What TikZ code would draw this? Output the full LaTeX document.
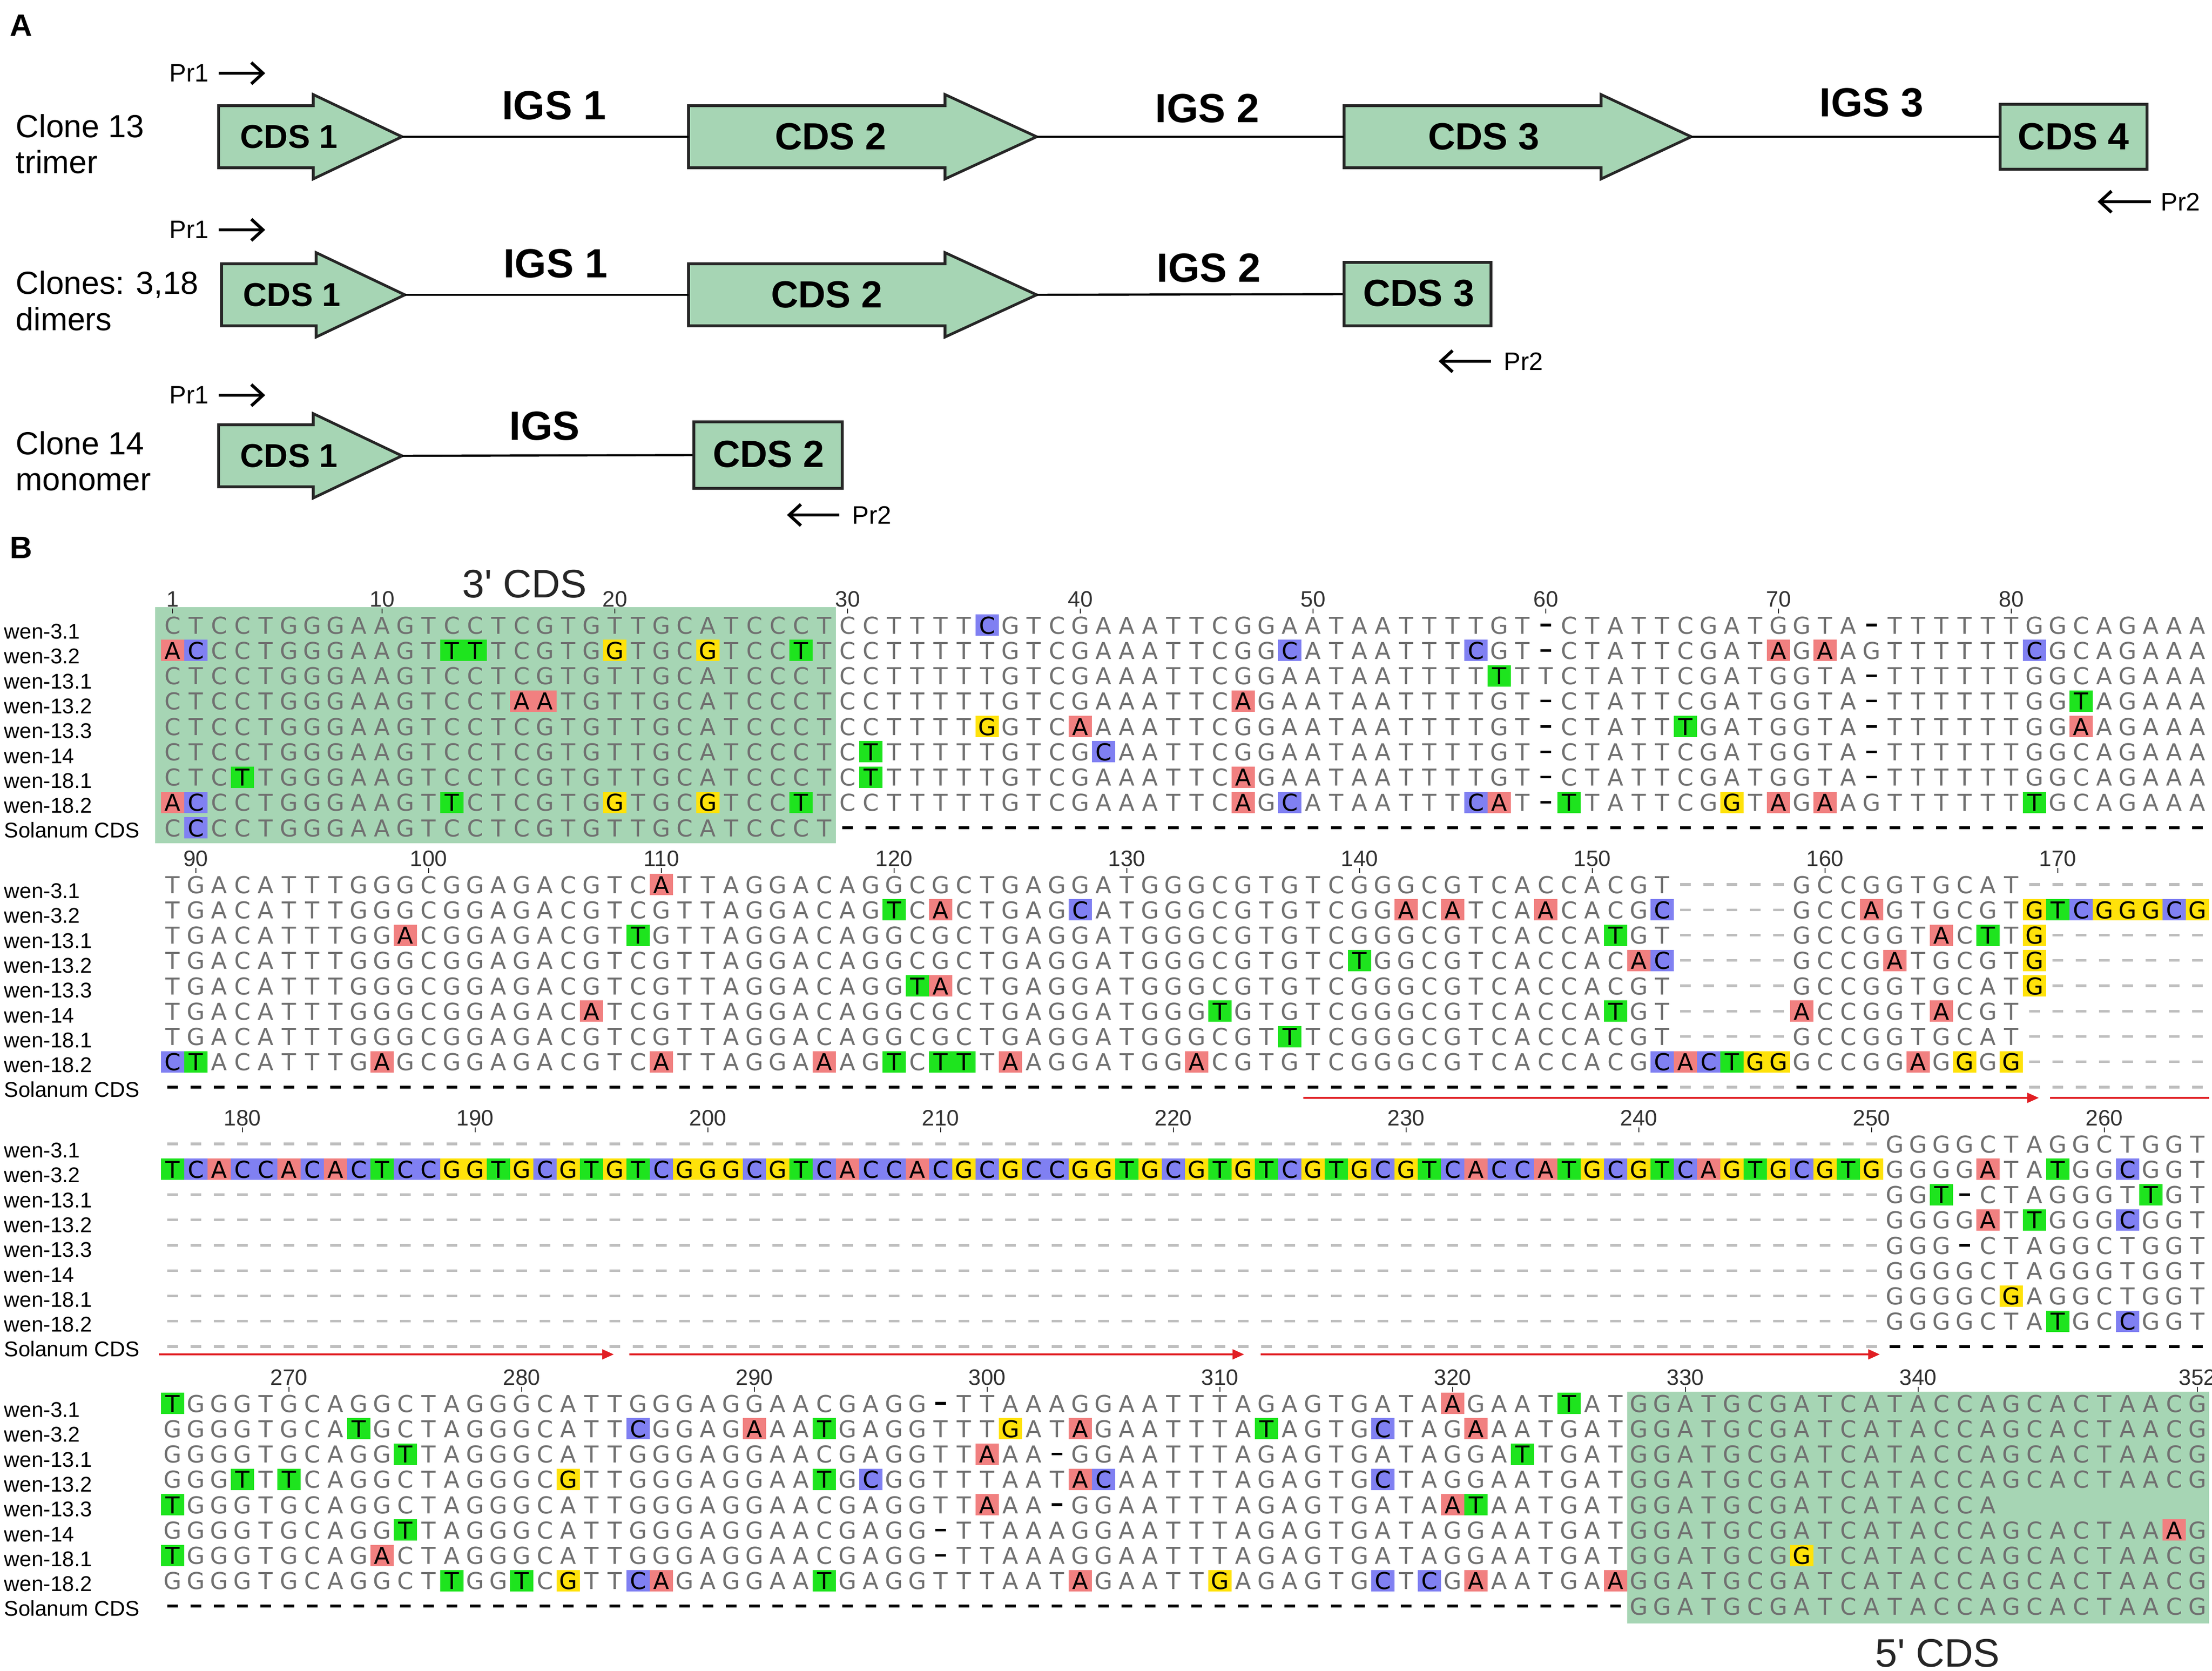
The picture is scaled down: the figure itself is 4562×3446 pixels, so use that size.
\documentclass[tikz,border=0pt]{standalone}
\usepackage{fontspec}
\setmainfont{Liberation Sans}
\newfontfamily\seqfont{DejaVu Sans}
\usetikzlibrary{arrows.meta}

\definecolor{hlA}{RGB}{241,128,128}
\definecolor{hlC}{RGB}{128,128,242}
\definecolor{hlG}{RGB}{255,226,10}
\definecolor{hlT}{RGB}{30,228,30}
\definecolor{cdsgreen}{RGB}{166,213,180}
\definecolor{seqgray}{RGB}{112,112,112}
\definecolor{gapgray}{RGB}{190,190,190}
\definecolor{numgray}{RGB}{50,50,50}
\definecolor{repred}{RGB}{225,30,35}

\ExplSyntaxOn
\cs_new:Npn \seqrep #1#2 { \prg_replicate:nn {#1} {#2} }
\ExplSyntaxOff

\tikzset{
  seqtxt/.style={font=\seqfont\fontsize{12}{12}\selectfont, inner sep=0pt, anchor=base},
  numtxt/.style={font=\fontsize{11.5}{11.5}\selectfont, text=numgray, inner sep=0pt, anchor=base},
  lbl/.style={font=\fontsize{11}{11}\selectfont, inner sep=0pt, anchor=base west},
  cds/.style={fill=cdsgreen, draw=black!85, line width=1.4pt, line join=miter},
  cdstxt/.style={font=\bfseries\fontsize{17}{17}\selectfont, inner sep=0pt},
  cdstxtb/.style={font=\bfseries\fontsize{19.5}{19.5}\selectfont, inner sep=0pt},
  igstxt/.style={font=\bfseries\fontsize{21}{21}\selectfont, inner sep=0pt},
  clonetxt/.style={font=\fontsize{16.5}{16.5}\selectfont, inner sep=0pt, anchor=base west},
  prtxt/.style={font=\fontsize{13}{13}\selectfont, inner sep=0pt},
  prarrow/.style={line width=1.6pt, -{Straight Barb[length=6pt,width=11pt]}},
  link/.style={line width=1.1pt},
  panel/.style={font=\bfseries\fontsize{16}{16}\selectfont, inner sep=0pt},
  reparrow/.style={repred, line width=1.1pt, -{Triangle[length=6pt,width=5pt]}},
  repline/.style={repred, line width=1.1pt},
  cdstitle/.style={font=\fontsize{20.5}{20.5}\selectfont, text=black!85, inner sep=0pt, anchor=base},
}

\newcount\seqcol
\newcommand\seqrow[3]{%
  \pgfmathsetmacro\seqY{1289+535*#1+52.25*#2}%
  \global\seqcol=0
  \edef\seqstr{#3}%
  \expandafter\seqparse\seqstr\relax}
\def\seqparse#1{\ifx#1\relax\else\seqchar#1\global\advance\seqcol by 1 \expandafter\seqparse\fi}
\newcommand\seqhl[2]{\fill[#2] (\seqx-24,\seqY-22) rectangle (\seqx+24,\seqY+22); \node[seqtxt,text=black] at (\seqx,\seqY+18) {#1};}
\newcommand\seqnorm[1]{\node[seqtxt,text=seqgray] at (\seqx,\seqY+18) {#1};}
\newcommand\seqgap[1]{\fill[#1] (\seqx-11,\seqY-2.6) rectangle (\seqx+11,\seqY+2.6);}
\def\seqchar#1{%
  \edef\seqx{\the\numexpr356+48*\seqcol\relax}%
  \if#1a\seqhl{A}{hlA}\else
  \if#1c\seqhl{C}{hlC}\else
  \if#1g\seqhl{G}{hlG}\else
  \if#1t\seqhl{T}{hlT}\else
  \if#1-\seqgap{black}\else
  \if#1.\seqgap{gapgray}\else
  \if#1*\relax\else
  \seqnorm{#1}%
  \fi\fi\fi\fi\fi\fi\fi}
\newcommand\ticknum[3]{%
  \pgfmathsetmacro\tY{1289+535*#1}%
  \pgfmathsetmacro\tX{356+48*#2}%
  \draw[numgray, line width=0.5pt] (\tX,\tY-34) -- (\tX,\tY-24);
  \node[numtxt] at (\tX,\tY-38) {#3};}
\newcommand\cdsarrow[7]{%
  \draw[cds] (#2,#5-#6) -- (#4,#5-#6) -- (#4,#5-#7) -- (#3,#5) -- (#4,#5+#7) -- (#4,#5+#6) -- (#2,#5+#6) -- cycle;
  \coordinate (#1-w) at (#2,#5);
  \coordinate (#1-e) at (#3,#5);}

\begin{document}
\begin{tikzpicture}[x=0.25pt,y=-0.25pt]
\useasboundingbox (0,0) rectangle (4562,3446);

% ---------------- Panel A ----------------
\node[panel] (pA) at (44,52) {A};
\node[panel] (pB) at (44,1129) {B};

% row 1: trimer
\node[clonetxt] (c13a) at (32,283) {Clone 13};
\node[clonetxt] (c13b) at (32,357) {trimer};
\node[prtxt] (r1p1) at (390,151) {Pr1};
\coordinate (r1p1s) at (451,151); \coordinate (r1p1e) at (547,151);
\draw[prarrow] (r1p1s) -- (r1p1e);
\cdsarrow{r1a}{451}{829}{646}{282}{64}{87}
\cdsarrow{r1b}{1420}{2138}{1949}{282}{64}{87}
\cdsarrow{r1c}{2772}{3488}{3302}{282}{64}{87}
\node[cds, minimum width=75.75pt, minimum height=33.5pt, inner sep=0pt] (r1d) at (4276.5,282) {};
\node[cdstxt] (r1at) at (596,282) {CDS 1};
\node[cdstxtb] (r1bt) at (1713,282) {CDS 2};
\node[cdstxtb] (r1ct) at (3060,282) {CDS 3};
\node[cdstxtb] (r1dt) at (r1d) {CDS 4};
\draw[link] (r1a-e) -- (r1b-w);
\draw[link] (r1b-e) -- (r1c-w);
\draw[link] (r1c-e) -- (r1d.west);
\node[igstxt] (r1i1) at (1143,218) {IGS 1};
\node[igstxt] (r1i2) at (2490,224) {IGS 2};
\node[igstxt] (r1i3) at (3860,212) {IGS 3};
\node[prtxt] (r1p2) at (4497,416) {Pr2};
\coordinate (r1p2s) at (4436,416); \coordinate (r1p2e) at (4326,416);
\draw[prarrow] (r1p2s) -- (r1p2e);

% row 2: dimers
\node[clonetxt] (c318a) at (32,606) {Clones: 3,18};
\node[clonetxt] (c318b) at (32,681) {dimers};
\node[prtxt] (r2p1) at (390,474) {Pr1};
\coordinate (r2p1s) at (451,474); \coordinate (r2p1e) at (547,474);
\draw[prarrow] (r2p1s) -- (r2p1e);
\cdsarrow{r2a}{457}{835}{652}{608}{64}{87}
\cdsarrow{r2b}{1420}{2138}{1949}{608}{64}{87}
\node[cds, minimum width=75.75pt, minimum height=32.75pt, inner sep=0pt] (r2c) at (2923.5,606.5) {};
\node[cdstxt] (r2at) at (602,608) {CDS 1};
\node[cdstxtb] (r2bt) at (1705,608) {CDS 2};
\node[cdstxtb] (r2ct) at (2926,605) {CDS 3};
\draw[link] (r2a-e) -- (r2b-w);
\draw[link] (r2b-e) -- (r2c.west);
\node[igstxt] (r2i1) at (1146,544) {IGS 1};
\node[igstxt] (r2i2) at (2493,553) {IGS 2};
\node[prtxt] (r2p2) at (3142,745) {Pr2};
\coordinate (r2p2s) at (3075,745); \coordinate (r2p2e) at (2967,745);
\draw[prarrow] (r2p2s) -- (r2p2e);

% row 3: monomer
\node[clonetxt] (c14a) at (32,937) {Clone 14};
\node[clonetxt] (c14b) at (32,1011) {monomer};
\node[prtxt] (r3p1) at (390,815) {Pr1};
\coordinate (r3p1s) at (451,815); \coordinate (r3p1e) at (547,815);
\draw[prarrow] (r3p1s) -- (r3p1e);
\cdsarrow{r3a}{451}{829}{646}{940}{64}{87}
\node[cds, minimum width=76.5pt, minimum height=34.25pt, inner sep=0pt] (r3b) at (1584,938.5) {};
\node[cdstxt] (r3at) at (596,940) {CDS 1};
\node[cdstxtb] (r3bt) at (1585,937) {CDS 2};
\draw[link] (r3a-e) -- (r3b.west);
\node[igstxt] (r3i) at (1123,879) {IGS};
\node[prtxt] (r3p2) at (1798,1062) {Pr2};
\coordinate (r3p2s) at (1731,1062); \coordinate (r3p2e) at (1623,1062);
\draw[prarrow] (r3p2s) -- (r3p2e);

% ---------------- Panel B ----------------
\fill[cdsgreen] (320,1252) rectangle (1724,1739);
\fill[cdsgreen] (3356,2870) rectangle (4556,3348);
\node[cdstitle] (t3) at (1082,1232) {3\textquotesingle{} CDS};
\node[cdstitle] (t5) at (3996,3437) {5\textquotesingle{} CDS};

% row labels
\foreach \b in {0,1,2,3}{
  \foreach \lab [count=\r from 0] in {wen-3.1,wen-3.2,wen-13.1,wen-13.2,wen-13.3,wen-14,wen-18.1,wen-18.2,Solanum CDS}{
    \node[lbl] at (8,{1317.5+535*\b+51.3*\r}) {\lab};
  }
}

% position numbers
\foreach \c/\t in {0/1,9/10,19/20,29/30,39/40,49/50,59/60,69/70,79/80}{\ticknum{0}{\c}{\t}}
\foreach \c/\t in {1/90,11/100,21/110,31/120,41/130,51/140,61/150,71/160,81/170}{\ticknum{1}{\c}{\t}}
\foreach \c/\t in {3/180,13/190,23/200,33/210,43/220,53/230,63/240,73/250,83/260}{\ticknum{2}{\c}{\t}}
\foreach \c/\t in {5/270,15/280,25/290,35/300,45/310,55/320,65/330,75/340,87/352}{\ticknum{3}{\c}{\t}}

% block 1: columns 1-88
\seqrow{0}{0}{CTCCTGGGAAGTCCTCGTGTTGCATCCCTCCTTTTcGTCGAAATTCGGAATAATTTTGT-CTATTCGATGGTA-TTTTTTGGCAGAAA}
\seqrow{0}{1}{acCCTGGGAAGTttTCGTGgTGCgTCCtTCCTTTTTGTCGAAATTCGGcATAATTTcGT-CTATTCGATaGaAGTTTTTTcGCAGAAA}
\seqrow{0}{2}{CTCCTGGGAAGTCCTCGTGTTGCATCCCTCCTTTTTGTCGAAATTCGGAATAATTTTtTTCTATTCGATGGTA-TTTTTTGGCAGAAA}
\seqrow{0}{3}{CTCCTGGGAAGTCCTaaTGTTGCATCCCTCCTTTTTGTCGAAATTCaGAATAATTTTGT-CTATTCGATGGTA-TTTTTTGGtAGAAA}
\seqrow{0}{4}{CTCCTGGGAAGTCCTCGTGTTGCATCCCTCCTTTTgGTCaAAATTCGGAATAATTTTGT-CTATTtGATGGTA-TTTTTTGGaAGAAA}
\seqrow{0}{5}{CTCCTGGGAAGTCCTCGTGTTGCATCCCTCtTTTTTGTCGcAATTCGGAATAATTTTGT-CTATTCGATGGTA-TTTTTTGGCAGAAA}
\seqrow{0}{6}{CTCtTGGGAAGTCCTCGTGTTGCATCCCTCtTTTTTGTCGAAATTCaGAATAATTTTGT-CTATTCGATGGTA-TTTTTTGGCAGAAA}
\seqrow{0}{7}{acCCTGGGAAGTtCTCGTGgTGCgTCCtTCCTTTTTGTCGAAATTCaGcATAATTTcaT-tTATTCGgTaGaAGTTTTTTtGCAGAAA}
\seqrow{0}{8}{CcCCTGGGAAGTCCTCGTGTTGCATCCCT\seqrep{59}{-}}

% block 2: columns 89-176
\seqrow{1}{0}{TGACATTTGGGCGGAGACGTCaTTAGGACAGGCGCTGAGGATGGGCGTGTCGGGCGTCACCACGT.....GCCGGTGCAT........}
\seqrow{1}{1}{TGACATTTGGGCGGAGACGTCGTTAGGACAGtCaCTGAGcATGGGCGTGTCGGaCaTCAaCACGc.....GCCaGTGCGTgtcgggcg}
\seqrow{1}{2}{TGACATTTGGaCGGAGACGTtGTTAGGACAGGCGCTGAGGATGGGCGTGTCGGGCGTCACCAtGT.....GCCGGTaCtTg.......}
\seqrow{1}{3}{TGACATTTGGGCGGAGACGTCGTTAGGACAGGCGCTGAGGATGGGCGTGTCtGGCGTCACCACac.....GCCGaTGCGTg.......}
\seqrow{1}{4}{TGACATTTGGGCGGAGACGTCGTTAGGACAGGtaCTGAGGATGGGCGTGTCGGGCGTCACCACGT.....GCCGGTGCATg.......}
\seqrow{1}{5}{TGACATTTGGGCGGAGACaTCGTTAGGACAGGCGCTGAGGATGGGtGTGTCGGGCGTCACCAtGT.....aCCGGTaCGT........}
\seqrow{1}{6}{TGACATTTGGGCGGAGACGTCGTTAGGACAGGCGCTGAGGATGGGCGTtTCGGGCGTCACCACGT.....GCCGGTGCAT........}
\seqrow{1}{7}{ctACATTTGaGCGGAGACGTCaTTAGGAaAGtCttTaAGGATGGaCGTGTCGGGCGTCACCACGcactggGCCGGaGgGg........}
\seqrow{1}{8}{\seqrep{65}{-}.....\seqrep{10}{-}........}

% block 3: columns 177-264
\seqrow{2}{0}{\seqrep{74}{.}GGGGCTAGGCTGGT}
\seqrow{2}{1}{tcaccacactccggtgcgtgtcgggcgtcaccacgcgccggtgcgtgtcgtgcgtcaccatgcgtcagtgcgtgGGGGaTAtGGcGGT}
\seqrow{2}{2}{\seqrep{74}{.}GGt-CTAGGGTtGT}
\seqrow{2}{3}{\seqrep{74}{.}GGGGaTtGGGcGGT}
\seqrow{2}{4}{\seqrep{74}{.}GGG-CTAGGCTGGT}
\seqrow{2}{5}{\seqrep{74}{.}GGGGCTAGGGTGGT}
\seqrow{2}{6}{\seqrep{74}{.}GGGGCgAGGCTGGT}
\seqrow{2}{7}{\seqrep{74}{.}GGGGCTAtGCcGGT}
\seqrow{2}{8}{\seqrep{74}{.}\seqrep{14}{-}}

% block 4: columns 265-352
\seqrow{3}{0}{tGGGTGCAGGCTAGGGCATTGGGAGGAACGAGG-TTAAAGGAATTTAGAGTGATAaGAATtATGGATGCGATCATACCAGCACTAACG}
\seqrow{3}{1}{GGGGTGCAtGCTAGGGCATTcGGAGaAAtGAGGTTTgATaGAATTTAtAGTGcTAGaAATGATGGATGCGATCATACCAGCACTAACG}
\seqrow{3}{2}{GGGGTGCAGGtTAGGGCATTGGGAGGAACGAGGTTaAA-GGAATTTAGAGTGATAGGAtTGATGGATGCGATCATACCAGCACTAACG}
\seqrow{3}{3}{GGGtTtCAGGCTAGGGCgTTGGGAGGAAtGcGGTTTAATacAATTTAGAGTGcTAGGAATGATGGATGCGATCATACCAGCACTAACG}
\seqrow{3}{4}{tGGGTGCAGGCTAGGGCATTGGGAGGAACGAGGTTaAA-GGAATTTAGAGTGATAatAATGATGGATGCGATCATACCA*********}
\seqrow{3}{5}{GGGGTGCAGGtTAGGGCATTGGGAGGAACGAGG-TTAAAGGAATTTAGAGTGATAGGAATGATGGATGCGATCATACCAGCACTAAaG}
\seqrow{3}{6}{tGGGTGCAGaCTAGGGCATTGGGAGGAACGAGG-TTAAAGGAATTTAGAGTGATAGGAATGATGGATGCGgTCATACCAGCACTAACG}
\seqrow{3}{7}{GGGGTGCAGGCTtGGtCgTTcaGAGGAAtGAGGTTTAATaGAATTgAGAGTGcTcGaAATGAaGGATGCGATCATACCAGCACTAACG}
\seqrow{3}{8}{\seqrep{63}{-}GGATGCGATCATACCAGCACTAACG}

% repeat arrows
\draw[reparrow] (2688,2264) -- (4205,2264);
\draw[repline] (4228,2264) -- (4556,2264);
\draw[reparrow] (328,2793) -- (1266,2793);
\draw[reparrow] (1298,2793) -- (2566,2793);
\draw[reparrow] (2600,2793) -- (3877,2793);
\end{tikzpicture}
\end{document}
